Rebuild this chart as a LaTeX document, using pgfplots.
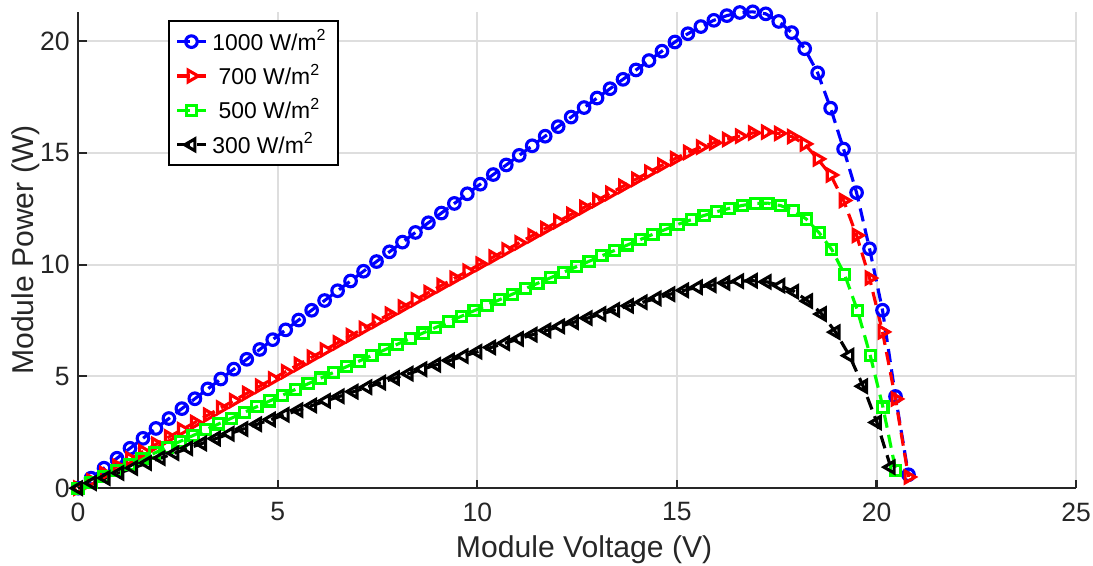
\documentclass[border=0pt]{standalone}
\usepackage{fontspec}
\setmainfont{Liberation Sans}
\usepackage{pgfplots}
\pgfplotsset{compat=1.18}

\definecolor{gridgray}{gray}{0.87}
\definecolor{axgray}{gray}{0.15}

\begin{document}
\begin{tikzpicture}
\begin{axis}[
  name=ax,
  scale only axis,
  width=414pt, height=197.5pt,
  xmin=0, xmax=25, ymin=0, ymax=21.3,
  xtick={0,5,...,25}, ytick={0,5,...,20},
  axis lines=left,
  axis line style={-, draw=axgray, line width=0.9pt},
  tick style={draw=axgray, line width=0.9pt},
  tick align=inside,
  major tick length=3.5pt,
  grid=major,
  major grid style={draw=gridgray, line width=0.8pt},
  tick label style={font=\fontsize{11}{13}\selectfont, text=axgray},
  xticklabel style={yshift=-2.5pt},
  /pgf/number format/assume math mode=true,
  xlabel={Module Voltage (V)}, ylabel={Module Power (W)},
  label style={font=\fontsize{12.5}{15}\selectfont, text=axgray},
  xlabel style={at={(axis description cs:0.507,-0.145)}, anchor=base},
  ylabel style={at={(axis description cs:-0.053,0.5)}, anchor=center},
  clip=false,
  legend style={at={(axis cs:2.26,20.94)}, anchor=north west, draw=black,
    line width=0.9pt, fill=white, font=\fontsize{9.5}{11}\selectfont,
    inner xsep=2.5pt, inner ysep=1.5pt, row sep=0.3pt},
  legend cell align=left,
  legend image code/.code={\draw[mark repeat=2,mark phase=2,#1] plot coordinates {(0pt,0pt) (6pt,0pt) (12pt,0pt)};},
  every axis plot/.append style={line width=1.3pt, dash pattern=on 5.5pt off 3pt},
]
\addplot[blue, mark=o, mark size=2.4pt, mark options={solid}] coordinates {
(0,0) (0.325,0.447) (0.65,0.893) (0.975,1.338) (1.3,1.783) (1.625,2.228) (1.95,2.672) (2.275,3.115) (2.6,3.558) (2.925,4.000) (3.25,4.442) (3.575,4.884) (3.9,5.325) (4.225,5.765) (4.55,6.205) (4.875,6.644) (5.2,7.082) (5.525,7.521) (5.85,7.958) (6.175,8.395) (6.5,8.832) (6.825,9.268) (7.15,9.704) (7.475,10.138) (7.8,10.573) (8.125,11.007) (8.45,11.440) (8.775,11.873) (9.1,12.306) (9.425,12.737) (9.75,13.169) (10.075,13.599) (10.4,14.030) (10.725,14.459) (11.05,14.889) (11.375,15.317) (11.7,15.745) (12.025,16.173) (12.35,16.600) (12.675,17.027) (13.0,17.453) (13.325,17.87) (13.65,18.29) (13.975,18.71) (14.3,19.13) (14.625,19.55) (14.95,19.96) (15.275,20.33) (15.6,20.65) (15.925,20.93) (16.25,21.14) (16.575,21.28) (16.9,21.31) (17.225,21.22) (17.55,20.88) (17.875,20.38) (18.2,19.66) (18.525,18.58) (18.85,17.00) (19.175,15.17) (19.5,13.22) (19.825,10.71) (20.15,7.96) (20.475,4.1) (20.8,0.6)
};
\addlegendentry{1000 W/m\textsuperscript{2}}
\addplot[red, mark=triangle, mark size=2.8pt, mark options={solid, rotate=-90}] coordinates {
(0,0) (0.325,0.328) (0.65,0.656) (0.975,0.983) (1.3,1.310) (1.625,1.637) (1.95,1.964) (2.275,2.290) (2.6,2.616) (2.925,2.941) (3.25,3.267) (3.575,3.591) (3.9,3.916) (4.225,4.241) (4.55,4.565) (4.875,4.888) (5.2,5.211) (5.525,5.534) (5.85,5.857) (6.175,6.179) (6.5,6.502) (6.825,6.824) (7.15,7.145) (7.475,7.466) (7.8,7.787) (8.125,8.107) (8.45,8.427) (8.775,8.747) (9.1,9.067) (9.425,9.386) (9.75,9.705) (10.075,10.024) (10.4,10.342) (10.725,10.660) (11.05,10.977) (11.375,11.294) (11.7,11.612) (12.025,11.928) (12.35,12.245) (12.675,12.561) (13.0,12.877) (13.325,13.192) (13.65,13.507) (13.975,13.821) (14.3,14.137) (14.625,14.45) (14.95,14.74) (15.275,15.02) (15.6,15.26) (15.925,15.45) (16.25,15.60) (16.575,15.75) (16.9,15.89) (17.225,15.93) (17.55,15.87) (17.875,15.73) (18.2,15.40) (18.525,14.73) (18.85,14.01) (19.175,12.87) (19.5,11.31) (19.825,9.40) (20.15,6.99) (20.475,3.99) (20.8,0.5)
};
\addlegendentry{\ 700 W/m\textsuperscript{2}}
\addplot[green, mark=square, mark size=2.1pt, mark options={solid}] coordinates {
(0,0) (0.32,0.264) (0.64,0.527) (0.96,0.790) (1.28,1.052) (1.6,1.314) (1.92,1.575) (2.24,1.835) (2.56,2.096) (2.88,2.355) (3.2,2.614) (3.52,2.873) (3.84,3.131) (4.16,3.389) (4.48,3.646) (4.8,3.902) (5.12,4.158) (5.44,4.414) (5.76,4.669) (6.08,4.924) (6.4,5.178) (6.72,5.431) (7.04,5.684) (7.36,5.937) (7.68,6.189) (8.0,6.440) (8.32,6.691) (8.64,6.941) (8.96,7.191) (9.28,7.441) (9.6,7.690) (9.92,7.938) (10.24,8.186) (10.56,8.433) (10.88,8.680) (11.2,8.926) (11.52,9.172) (11.84,9.417) (12.16,9.662) (12.48,9.906) (12.8,10.150) (13.12,10.394) (13.44,10.637) (13.76,10.879) (14.08,11.12) (14.4,11.36) (14.72,11.58) (15.04,11.81) (15.36,12.01) (15.68,12.20) (16.0,12.37) (16.32,12.52) (16.64,12.65) (16.96,12.74) (17.28,12.75) (17.6,12.64) (17.92,12.42) (18.24,12.04) (18.56,11.43) (18.88,10.67) (19.2,9.56) (19.52,7.96) (19.84,5.95) (20.16,3.63) (20.48,0.8)
};
\addlegendentry{\ 500 W/m\textsuperscript{2}}
\addplot[black, mark=triangle, mark size=2.8pt, mark options={solid, rotate=90}] coordinates {
(0,0) (0.345,0.227) (0.69,0.453) (1.035,0.678) (1.38,0.901) (1.725,1.124) (2.07,1.345) (2.415,1.565) (2.76,1.784) (3.105,2.001) (3.45,2.218) (3.795,2.433) (4.14,2.647) (4.485,2.860) (4.83,3.071) (5.175,3.282) (5.52,3.491) (5.865,3.699) (6.21,3.906) (6.555,4.111) (6.9,4.316) (7.245,4.519) (7.59,4.721) (7.935,4.922) (8.28,5.122) (8.625,5.321) (8.97,5.518) (9.315,5.714) (9.66,5.909) (10.005,6.103) (10.35,6.296) (10.695,6.487) (11.04,6.677) (11.385,6.866) (11.73,7.054) (12.075,7.240) (12.42,7.426) (12.765,7.610) (13.11,7.794) (13.455,7.975) (13.8,8.156) (14.145,8.32) (14.49,8.49) (14.835,8.68) (15.18,8.85) (15.525,8.99) (15.87,9.08) (16.215,9.18) (16.56,9.26) (16.905,9.28) (17.25,9.23) (17.595,9.06) (17.94,8.79) (18.285,8.37) (18.63,7.79) (18.975,6.98) (19.32,5.93) (19.665,4.56) (20.01,2.94) (20.355,0.94)
};
\addlegendentry{300 W/m\textsuperscript{2}}
\end{axis}
\pgfresetboundingbox
\path[use as bounding box] ([shift={(-32.4pt,-32pt)}]ax.south west) rectangle ([shift={(7pt,5pt)}]ax.north east);
\end{tikzpicture}
\end{document}
